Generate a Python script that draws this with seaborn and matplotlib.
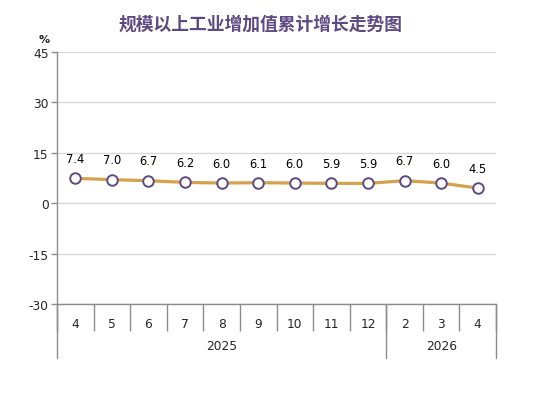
import numpy as np
import pandas as pd
import matplotlib
matplotlib.use("Agg")
import matplotlib.pyplot as plt
import seaborn as sns

# chart data
months = ["4", "5", "6", "7", "8", "9", "10", "11", "12", "2", "3", "4"]
growth = [7.4, 7.0, 6.7, 6.2, 6.0, 6.1, 6.0, 5.9, 5.9, 6.7, 6.0, 4.5]
years = ["2025", "2026"]
months_per_year = [9, 3]
y_ticks = [-30, -15, 0, 15, 30, 45]
title = "规模以上工业增加值累计增长走势图"

sns.set_theme(style="white")
plt.rcParams["font.family"] = ["DejaVu Sans", "Noto Sans CJK SC"]

df = pd.DataFrame({"pos": np.arange(len(months)), "growth": growth})

fig = plt.figure(figsize=(5.54, 4.02), dpi=100)
ax = fig.add_axes([57 / 554, 1 - 305 / 402, (496 - 57) / 554, (305 - 53) / 402])

line_color = "#D4A24A"
purple = "#5E4A82"
axis_gray = "#8C8C8C"

sns.lineplot(data=df, x="pos", y="growth", ax=ax, color=line_color, linewidth=2.3,
             marker="o", markersize=7.6, markerfacecolor="white",
             markeredgecolor=purple, markeredgewidth=1.4, zorder=3)

for x, v in zip(df["pos"], df["growth"]):
    ax.annotate(f"{v:.1f}", (x, v), xytext=(0, 9.5), textcoords="offset points",
                ha="center", va="bottom", fontsize=8.3, color="black")

ax.set_xlim(-0.5, len(months) - 0.5)
ax.set_ylim(min(y_ticks), max(y_ticks))
ax.set_yticks(y_ticks)
ax.set_yticklabels([str(t) for t in y_ticks], fontsize=8.8)
ax.yaxis.grid(True, color="#D9D9D9", linewidth=1)
ax.set_axisbelow(True)
ax.tick_params(axis="y", which="major", direction="out", length=4, width=1,
               color=axis_gray, pad=2, left=True)

# category separators as major ticks, labels as minor ticks
ax.set_xticks(np.arange(len(months) + 1) - 0.5)
ax.set_xticklabels([])
ax.set_xticks(np.arange(len(months)), minor=True)
ax.set_xticklabels(months, minor=True, fontsize=8.8)
ax.tick_params(axis="x", which="major", direction="out", length=19.5, width=1,
               color=axis_gray, bottom=True)
ax.tick_params(axis="x", which="minor", length=0, pad=9)

for side in ["top", "right"]:
    ax.spines[side].set_visible(False)
for side in ["left", "bottom"]:
    ax.spines[side].set_color(axis_gray)
    ax.spines[side].set_linewidth(1)

ax.set_xlabel("")
ax.set_ylabel("")

# year groups below the month labels
trans = ax.get_xaxis_transform()
ax_h = (305 - 53)
edges = np.concatenate([[0], np.cumsum(months_per_year)]) - 0.5
for e in edges:
    ax.plot([e, e], [0, -54 / ax_h], transform=trans, color=axis_gray,
            linewidth=1, clip_on=False)
for yr, a, b in zip(years, edges[:-1], edges[1:]):
    ax.text((a + b) / 2, -42 / ax_h, yr, transform=trans, ha="center",
            va="center", fontsize=8.8)

fig.text(261 / 554, 1 - 25 / 402, title, ha="center", va="center",
         fontsize=12.8, fontweight="bold", color=purple,
         family=["Noto Sans CJK SC", "DejaVu Sans"])
fig.text(44 / 554, 1 - 40 / 402, "%", ha="center", va="center",
         fontsize=8, fontweight="bold")

fig.savefig("out.png", dpi=100)
